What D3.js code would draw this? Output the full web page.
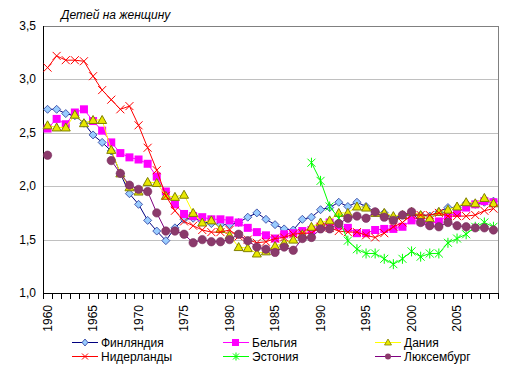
<html>
<head>
<meta charset="utf-8">
<script src="https://cdn.jsdelivr.net/npm/d3@7"></script>
<style>
  body { margin: 0px; background: #fff; }
  svg text { font-family: "Liberation Sans", Arial, sans-serif; font-size: 12px; fill: #000; }
  svg .title { font-style: italic; }
</style>
</head>
<body>
<script>

var w = 515, h = 373;

// years on the category axis
var years = d3.range(1960, 2010);
var yTicks = [1.0, 1.5, 2.0, 2.5, 3.0, 3.5];

var finland = [2.72, 2.72, 2.68, 2.66, 2.59, 2.48, 2.41, 2.33, 2.12, 1.93,
  1.83, 1.68, 1.58, 1.49, 1.61, 1.69, 1.70, 1.67, 1.65, 1.64,
  1.64, 1.66, 1.71, 1.75, 1.69, 1.64, 1.60, 1.59, 1.69, 1.71,
  1.78, 1.80, 1.85, 1.81, 1.85, 1.81, 1.76, 1.75, 1.70, 1.73,
  1.73, 1.73, 1.72, 1.76, 1.80, 1.80, 1.84, 1.83, 1.85, 1.86];
var belgium = [2.54, 2.63, 2.58, 2.69, 2.72, 2.61, 2.52, 2.41, 2.31, 2.27,
  2.25, 2.21, 2.09, 1.95, 1.83, 1.74, 1.72, 1.71, 1.69, 1.69,
  1.68, 1.66, 1.61, 1.57, 1.54, 1.51, 1.55, 1.56, 1.58, 1.59,
  1.62, 1.66, 1.63, 1.61, 1.56, 1.56, 1.59, 1.60, 1.60, 1.62,
  1.68, 1.67, 1.65, 1.67, 1.72, 1.75, 1.80, 1.83, 1.86, 1.85];
var denmark = [2.57, 2.55, 2.55, 2.67, 2.59, 2.62, 2.62, 2.34, 2.12, 1.99,
  1.95, 2.04, 2.03, 1.91, 1.90, 1.92, 1.75, 1.66, 1.68, 1.60,
  1.54, 1.43, 1.42, 1.37, 1.39, 1.44, 1.47, 1.50, 1.55, 1.62,
  1.66, 1.68, 1.75, 1.75, 1.81, 1.80, 1.75, 1.75, 1.72, 1.73,
  1.76, 1.73, 1.70, 1.76, 1.78, 1.81, 1.85, 1.84, 1.89, 1.84];
var netherlands = [3.11, 3.22, 3.18, 3.18, 3.17, 3.03, 2.90, 2.81, 2.72, 2.75,
  2.57, 2.36, 2.15, 1.91, 1.77, 1.67, 1.63, 1.59, 1.57, 1.57,
  1.59, 1.53, 1.50, 1.47, 1.48, 1.51, 1.52, 1.55, 1.56, 1.56,
  1.62, 1.61, 1.58, 1.57, 1.57, 1.54, 1.52, 1.56, 1.62, 1.66,
  1.73, 1.73, 1.73, 1.75, 1.72, 1.72, 1.72, 1.73, 1.77, 1.79];
var estonia = [null, null, null, null, null, null, null, null, null, null,
  null, null, null, null, null, null, null, null, null, null,
  null, null, null, null, null, null, null, null, null, 2.22,
  2.05, 1.81, 1.70, 1.49, 1.41, 1.37, 1.37, 1.32, 1.27, 1.32,
  1.39, 1.34, 1.37, 1.37, 1.47, 1.51, 1.55, 1.62, 1.66, 1.62];
var luxembourg = [2.29, null, null, null, null, null, null, 2.24, 2.12, 2.01,
  1.97, 1.95, 1.75, 1.58, 1.58, 1.55, 1.47, 1.50, 1.48, 1.48,
  1.50, 1.55, 1.49, 1.43, 1.41, 1.38, 1.43, 1.40, 1.51, 1.52,
  1.60, 1.60, 1.65, 1.70, 1.72, 1.70, 1.76, 1.71, 1.68, 1.73,
  1.76, 1.66, 1.63, 1.62, 1.66, 1.63, 1.62, 1.61, 1.61, 1.59];

var seriesNames = ["Финляндия", "Бельгия", "Дания", "Нидерланды", "Эстония", "Люксембург"];

var series = [
  {name: seriesNames[0], values: finland, line: "#000080", marker: "diamond", fill: "#99ccff", stroke: "#2a3a9a"},
  {name: seriesNames[1], values: belgium, line: "#ff00ff", marker: "square", fill: "#ff00ff", stroke: "#ff00ff"},
  {name: seriesNames[2], values: denmark, line: "#ffff00", marker: "triangle", fill: "#e8e800", stroke: "#808000"},
  {name: seriesNames[3], values: netherlands, line: "#ff0000", marker: "x", fill: "none", stroke: "#ff0000"},
  {name: seriesNames[4], values: estonia, line: "#00ff00", marker: "star", fill: "none", stroke: "#00ff00"},
  {name: seriesNames[5], values: luxembourg, line: "#800080", marker: "circle", fill: "#8b3a6b", stroke: "#7a2e5e"}
];

var pLeft = 43, pRight = 498, pTop = 26, pBottom = 293;

var x = d3.scaleBand().domain(years).range([pLeft, pRight]).padding(0);
var y = d3.scaleLinear().domain([1, 3.5]).range([pBottom, pTop]);
var cx = function(yr) { return x(yr) + x.bandwidth() / 2; };

var svg = d3.select("body").append("svg")
  .attr("width", w)
  .attr("height", h);

/* grid lines */
svg.selectAll("line.grid")
  .data(yTicks.filter(function(d) { return d > 1; }))
  .enter().append("line")
  .attr("class", "grid")
  .attr("x1", pLeft).attr("x2", pRight)
  .attr("y1", function(d) { return Math.round(y(d)) + 0.5; })
  .attr("y2", function(d) { return Math.round(y(d)) + 0.5; })
  .attr("stroke", function(d) { return d === 3.5 ? "#808080" : "#c0c0c0"; })
  .attr("stroke-width", 1);

// right border
svg.append("line")
  .attr("x1", pRight + 0.5).attr("x2", pRight + 0.5)
  .attr("y1", pTop).attr("y2", pBottom)
  .attr("stroke", "#808080");

/* y labels */
svg.selectAll("text.ylab")
  .data(yTicks)
  .enter().append("text")
  .attr("class", "ylab")
  .attr("x", 36)
  .attr("y", function(d) { return y(d) + 4; })
  .attr("text-anchor", "end")
  .text(function(d) { return d3.format(".1f")(d).replace(".", ","); });

/* axes lines */
svg.append("line")
  .attr("x1", pLeft + 0.5).attr("x2", pLeft + 0.5)
  .attr("y1", pTop).attr("y2", pBottom)
  .attr("stroke", "#000");
svg.append("line")
  .attr("x1", pLeft).attr("x2", pRight + 1)
  .attr("y1", pBottom + 0.5).attr("y2", pBottom + 0.5)
  .attr("stroke", "#000");

// x ticks at category boundaries
var edges = years.map(function(d) { return x(d); }).concat([pRight]);
svg.selectAll("line.xtick")
  .data(edges)
  .enter().append("line")
  .attr("class", "xtick")
  .attr("x1", function(d) { return Math.round(d) + 0.5; })
  .attr("x2", function(d) { return Math.round(d) + 0.5; })
  .attr("y1", pBottom).attr("y2", pBottom + 6)
  .attr("stroke", "#000");

svg.selectAll("text.xlab")
  .data(years.filter(function(d) { return d % 5 === 0; }))
  .enter().append("text")
  .attr("class", "xlab")
  .attr("transform", function(d) { return "translate(" + (cx(d) + 4) + "," + 305 + ") rotate(-90)"; })
  .attr("text-anchor", "end")
  .text(function(d) { return d; });

/* lines */
var line = d3.line()
  .defined(function(d) { return d.v !== null; })
  .x(function(d) { return cx(d.year); })
  .y(function(d) { return y(d.v); });

function drawMarker(g, type, fill, stroke, px, py) {
  if (type === "diamond") {
    g.append("path")
      .attr("d", "M" + px + "," + (py - 4) + "L" + (px + 4) + "," + py + "L" + px + "," + (py + 4) + "L" + (px - 4) + "," + py + "Z")
      .attr("fill", fill).attr("stroke", stroke).attr("stroke-width", 0.8);
  } else if (type === "square") {
    g.append("rect")
      .attr("x", px - 4).attr("y", py - 4).attr("width", 8).attr("height", 8)
      .attr("fill", fill);
  } else if (type === "triangle") {
    g.append("path")
      .attr("d", "M" + px + "," + (py - 4.5) + "L" + (px + 4.5) + "," + (py + 3.5) + "L" + (px - 4.5) + "," + (py + 3.5) + "Z")
      .attr("fill", fill).attr("stroke", stroke).attr("stroke-width", 1);
  } else if (type === "x") {
    g.append("path")
      .attr("d", "M" + (px - 4) + "," + (py - 4) + "L" + (px + 4) + "," + (py + 4) + "M" + (px + 4) + "," + (py - 4) + "L" + (px - 4) + "," + (py + 4))
      .attr("stroke", stroke).attr("stroke-width", 1).attr("fill", "none");
  } else if (type === "star") {
    g.append("path")
      .attr("d", "M" + (px - 4) + "," + (py - 4) + "L" + (px + 4) + "," + (py + 4) + "M" + (px + 4) + "," + (py - 4) + "L" + (px - 4) + "," + (py + 4) + "M" + px + "," + (py - 5) + "L" + px + "," + (py + 5))
      .attr("stroke", stroke).attr("stroke-width", 1).attr("fill", "none");
  } else if (type === "circle") {
    g.append("circle")
      .attr("cx", px).attr("cy", py).attr("r", 4.2)
      .attr("fill", fill).attr("stroke", stroke).attr("stroke-width", 0.6);
  }
}

series.forEach(function(s) {
  var pts = s.values.map(function(v, i) { return {year: years[i], v: v}; });
  var g = svg.append("g");
  g.append("path")
    .datum(pts)
    .attr("d", line)
    .attr("fill", "none")
    .attr("stroke", s.line)
    .attr("stroke-width", 1);
  pts.forEach(function(p) {
    if (p.v !== null) drawMarker(g, s.marker, s.fill, s.stroke, cx(p.year), y(p.v));
  });
});

/* title */
svg.append("text")
  .attr("class", "title")
  .attr("x", 61)
  .attr("y", 19)
  .text("Детей на женщину");

/* legend */
var legendPos = [[72, 342], [223, 342], [375, 342], [72, 356], [223, 356], [375, 356]];
series.forEach(function(s, i) {
  var lx = legendPos[i][0], ly = legendPos[i][1];
  var g = svg.append("g");
  g.append("line")
    .attr("x1", lx).attr("x2", lx + 26)
    .attr("y1", ly + 0.5).attr("y2", ly + 0.5)
    .attr("stroke", s.line);
  if (s.marker === "square") {
    g.append("rect").attr("x", lx + 9).attr("y", ly - 3).attr("width", 7).attr("height", 7).attr("fill", s.fill);
  } else if (s.marker === "circle") {
    g.append("circle").attr("cx", lx + 13).attr("cy", ly + 0.5).attr("r", 3).attr("fill", s.fill);
  } else if (s.marker === "diamond") {
    g.append("path").attr("d", "M" + (lx + 13) + "," + (ly - 3) + "l3,3.5l-3,3.5l-3,-3.5Z").attr("fill", s.fill).attr("stroke", s.stroke).attr("stroke-width", 0.8);
  } else if (s.marker === "triangle") {
    g.append("path").attr("d", "M" + (lx + 13) + "," + (ly - 3) + "l3.5,6h-7Z").attr("fill", s.fill).attr("stroke", s.stroke).attr("stroke-width", 0.8);
  } else {
    var px = lx + 13, py = ly + 0.5;
    var d = "M" + (px - 3) + "," + (py - 3) + "L" + (px + 3) + "," + (py + 3) + "M" + (px + 3) + "," + (py - 3) + "L" + (px - 3) + "," + (py + 3);
    if (s.marker === "star") d += "M" + px + "," + (py - 4) + "L" + px + "," + (py + 4);
    g.append("path").attr("d", d).attr("stroke", s.stroke).attr("fill", "none");
  }
  g.append("text")
    .attr("x", lx + 29)
    .attr("y", ly + 4.5)
    .text(s.name);
});

</script>
</body>
</html>
